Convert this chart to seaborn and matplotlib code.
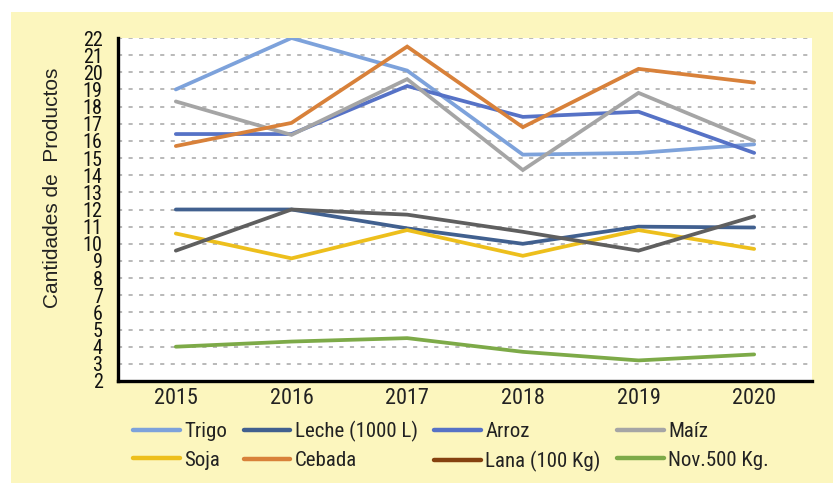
import matplotlib
matplotlib.use("Agg")
import matplotlib.pyplot as plt
from matplotlib import font_manager as fm
from matplotlib.lines import Line2D
from matplotlib.patches import Rectangle
import seaborn as sns
import pandas as pd

years = ["2015", "2016", "2017", "2018", "2019", "2020"]
series_names = ["Trigo", "Leche (1000 L)", "Arroz", "Maíz",
                "Soja", "Cebada", "Lana (100 Kg)", "Nov.500 Kg."]
trigo = [19.0, 22.0, 20.1, 15.2, 15.3, 15.8]
leche = [12.0, 12.0, 10.9, 10.0, 11.0, 10.95]
arroz = [16.4, 16.4, 19.2, 17.4, 17.7, 15.3]
maiz = [18.3, 16.35, 19.6, 14.3, 18.8, 16.0]
soja = [10.6, 9.15, 10.8, 9.3, 10.8, 9.7]
cebada = [15.7, 17.05, 21.5, 16.8, 20.2, 19.4]
lana = [9.6, 12.0, 11.7, 10.7, 9.6, 11.6]
nov500 = [4.0, 4.3, 4.5, 3.7, 3.2, 3.55]
y_label = "Cantidades de  Productos"

line_colors = ["#7DA2DB", "#41608F", "#5672C6", "#A5A5A5",
               "#EDBF1C", "#D8813A", "#5F5F5F", "#7DAA48"]
legend_colors = ["#7DA2DB", "#41608F", "#5672C6", "#A5A5A5",
                 "#EDBF1C", "#D8813A", "#854210", "#7DAA48"]

values = [trigo, leche, arroz, maiz, soja, cebada, lana, nov500]
rows = []
for name, vals in zip(series_names, values):
    for yr, v in zip(years, vals):
        rows.append({"Año": yr, "Valor": v, "Serie": name})
df = pd.DataFrame(rows)

sns.set_theme(style="white")

# pick a condensed font if one is installed
installed = {f.name for f in fm.fontManager.ttflist}
narrow_family = None
narrow_stretch = "normal"
for cand in ["Liberation Sans Narrow", "Roboto Condensed", "Open Sans Condensed",
             "DejaVu Sans Condensed", "Arial Narrow"]:
    if cand in installed:
        narrow_family = cand
        break
if narrow_family is None:
    cond = [f for f in fm.fontManager.ttflist
            if f.name == "DejaVu Sans" and str(f.stretch) in ("condensed", "semi-condensed", "700", "750")]
    if cond:
        narrow_family = "DejaVu Sans"
        narrow_stretch = "condensed"
    else:
        narrow_family = "DejaVu Sans"
narrow_ok = not (narrow_family == "DejaVu Sans" and narrow_stretch == "normal")
scale = 1.0 if narrow_ok else 0.8

plt.rcParams["font.family"] = [narrow_family, "DejaVu Sans"]
plt.rcParams["font.stretch"] = narrow_stretch

fig = plt.figure(figsize=(8.33, 4.83), dpi=100)
fig.patch.set_facecolor("white")
fig.patches.append(Rectangle((11 / 833, 0), 1 - 11 / 833, (483 - 12) / 483,
                             transform=fig.transFigure, facecolor="#FCF6BE",
                             edgecolor="none", zorder=-10))

ax = fig.add_axes([118 / 833, 1 - 381 / 483, (812 - 118) / 833, (381 - 38) / 483])
ax.set_facecolor("white")

sns.lineplot(data=df, x="Año", y="Valor", hue="Serie", hue_order=series_names,
             palette=dict(zip(series_names, line_colors)), sort=False,
             linewidth=2.7, ax=ax, legend=False, zorder=3)
for ln in ax.get_lines():
    ln.set_solid_capstyle("round")
    ln.set_solid_joinstyle("miter")

ax.set_xlim(-0.5, 5.5)
ax.set_ylim(2, 22)
ax.set_yticks(range(2, 23))
ax.set_xticks(range(len(years)))
ax.set_xticklabels(years)
ax.grid(axis="y", color="#A6A6A6", linewidth=1.1, linestyle=(0, (2.7, 4.2)), zorder=1)
ax.grid(axis="x", visible=False)

for s in ["top", "right"]:
    ax.spines[s].set_visible(False)
for s in ["left", "bottom"]:
    ax.spines[s].set_color("black")
    ax.spines[s].set_linewidth(2.4)
    ax.spines[s].set_zorder(4)

ax.tick_params(axis="y", length=0, pad=11, labelsize=14.5 * scale, labelcolor="#111111")
ax.tick_params(axis="x", length=0, pad=5, labelsize=16 * scale, labelcolor="#222222")

ax.set_xlabel("")
ax.set_ylabel(y_label, fontsize=15, family=["Liberation Sans", "DejaVu Sans"],
              stretch="normal", color="#222222")
ax.yaxis.set_label_coords(-0.08, 0.563)

# matplotlib fills legend columns first: reorder so rows read like the reference
order = [0, 4, 1, 5, 2, 6, 3, 7]
handles = [Line2D([0], [0], color=legend_colors[i], lw=3.2, solid_capstyle="round")
           for i in order]
labels = [series_names[i] for i in order]
fig.legend(handles, labels, loc="upper left", ncol=4,
           bbox_to_anchor=(133 / 833, 1 - 421 / 483), frameon=False,
           fontsize=15 * scale, handlelength=2.25 / scale, handletextpad=0.2,
           columnspacing=0.8, labelspacing=0.45, borderpad=0,
           borderaxespad=0, labelcolor="#222222")

fig.savefig("out.png", dpi=100, facecolor=fig.get_facecolor())
